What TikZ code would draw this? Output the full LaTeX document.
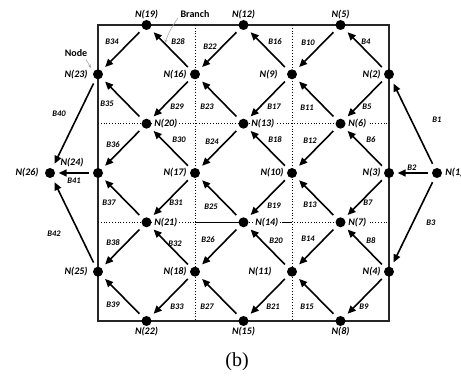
\documentclass[tikz,border=0pt]{standalone}
\usepackage{fontspec}
\setmainfont{Liberation Serif}
\newfontfamily\lblfont{Carlito}
\usetikzlibrary{arrows.meta}
\begin{document}
\begin{tikzpicture}[x=1pt,y=-1pt,
  dot/.style={circle,fill=black,minimum size=10pt,inner sep=0pt},
  nl/.style={font=\lblfont\bfseries\itshape\fontsize{10}{12}\selectfont,inner sep=1pt},
  nlw/.style={nl,fill=white,inner sep=1.5pt},
  bl/.style={font=\lblfont\bfseries\itshape\fontsize{8.5}{10}\selectfont,inner sep=0pt},
  br/.style={-{Triangle[length=8pt,width=7pt]},line width=1.6pt,shorten <=5pt,shorten >=5pt},
  brh/.style={br,shorten <=3.5pt,shorten >=3.5pt},
  frame/.style={line width=1.2pt,black!85},
  grid/.style={dotted,line width=0.8pt},
  note/.style={font=\lblfont\bfseries\fontsize{10}{12}\selectfont,inner sep=0pt},
  pointer/.style={gray!70,line width=0.6pt,-{Stealth[length=3.5pt,width=3pt]}},
  label distance=2pt]
\useasboundingbox (0,0) rectangle (461,379);

% columns and rows of the mesh
\def\cA{98}\def\cB{146.5}\def\cC{195}\def\cD{243.5}\def\cE{292}\def\cF{340.5}\def\cG{389}
\def\rA{25}\def\rB{74.3}\def\rC{123.7}\def\rD{173}\def\rE{222.3}\def\rF{271.7}\def\rG{321}

% outer frame and inner dotted subdivisions
\draw[frame] (\cA,\rA) rectangle (\cG,\rG);
\draw[grid] (\cC,\rA) -- (\cC,\rG);
\draw[grid] (\cE,\rA) -- (\cE,\rG);
\draw[grid] (\cA,\rC) -- (\cG,\rC);
\draw[grid] (\cA,\rE) -- (\cG,\rE);
\draw[line width=1.2pt] (\cC,\rE) -- (\cD,\rE);
\draw[line width=1.2pt] (282,\rE) -- (\cE,\rE);

% nodes
\node[dot,label={[nl]right:N(1)}] (n1) at (437,\rD) {};
\node[dot,label={[nl]left:N(2)}] (n2) at (\cG,\rB) {};
\node[dot,label={[nl]left:N(3)}] (n3) at (\cG,\rD) {};
\node[dot,label={[nl]left:N(4)}] (n4) at (\cG,\rF) {};
\node[dot,label={[nl,label distance=0pt]above:N(5)}] (n5) at (\cF,\rA) {};
\node[dot,label={[nlw,label distance=1pt]right:N(6)}] (n6) at (\cF,\rC) {};
\node[dot,label={[nlw,label distance=1pt]right:N(7)}] (n7) at (\cF,\rE) {};
\node[dot,label={[nl,label distance=0pt]below:N(8)}] (n8) at (\cF,\rG) {};
\node[dot,label={[nl,label distance=8pt]left:N(9)}] (n9) at (\cE,\rB) {};
\node[dot,label={[nl]left:N(10)}] (n10) at (\cE,\rD) {};
\node[dot,label={[nl,label distance=14pt]left:N(11)}] (n11) at (\cE,\rF) {};
\node[dot,label={[nl,label distance=0pt]above:N(12)}] (n12) at (\cD,\rA) {};
\node[dot,label={[nlw,label distance=1pt]right:N(13)}] (n13) at (\cD,\rC) {};
\node[dot,label={[nlw,label distance=5pt]right:N(14)}] (n14) at (\cD,\rE) {};
\node[dot,label={[nl,label distance=0pt]below:N(15)}] (n15) at (\cD,\rG) {};
\node[dot,label={[nl]left:N(16)}] (n16) at (\cC,\rB) {};
\node[dot,label={[nl]left:N(17)}] (n17) at (\cC,\rD) {};
\node[dot,label={[nl]left:N(18)}] (n18) at (\cC,\rF) {};
\node[dot,label={[nl,label distance=0pt]above:N(19)}] (n19) at (\cB,\rA) {};
\node[dot,label={[nlw,label distance=1pt]right:N(20)}] (n20) at (\cB,\rC) {};
\node[dot,label={[nlw,label distance=1pt]right:N(21)}] (n21) at (\cB,\rE) {};
\node[dot,label={[nl,label distance=0pt]below:N(22)}] (n22) at (\cB,\rG) {};
\node[dot,label={[nl,label distance=4pt]left:N(23)}] (n23) at (\cA,\rB) {};
\node[dot] (n24) at (\cA,\rD) {};
\node[dot,label={[nl,label distance=4pt]left:N(25)}] (n25) at (\cA,\rF) {};
\node[dot,label={[nl,label distance=5pt]left:N(26)}] (n26) at (50,\rD) {};
\node[nl] (ln24) at (72,162.5) {N(24)};

% branches
\draw[br] (n1) -- (n2);
\draw[brh] (n1) -- (n3);
\draw[br] (n1) -- (n4);
\draw[br] (n2) -- (n5);
\draw[br] (n2) -- (n6);
\draw[br] (n3) -- (n6);
\draw[br] (n3) -- (n7);
\draw[br] (n4) -- (n7);
\draw[br] (n4) -- (n8);
\draw[br] (n5) -- (n9);
\draw[br] (n6) -- (n9);
\draw[br] (n6) -- (n10);
\draw[br] (n7) -- (n10);
\draw[br] (n7) -- (n11);
\draw[br] (n8) -- (n11);
\draw[br] (n9) -- (n12);
\draw[br] (n9) -- (n13);
\draw[br] (n10) -- (n13);
\draw[br] (n10) -- (n14);
\draw[br] (n11) -- (n14);
\draw[br] (n11) -- (n15);
\draw[br] (n12) -- (n16);
\draw[br] (n13) -- (n16);
\draw[br] (n13) -- (n17);
\draw[br] (n14) -- (n17);
\draw[br] (n14) -- (n18);
\draw[br] (n15) -- (n18);
\draw[br] (n16) -- (n19);
\draw[br] (n16) -- (n20);
\draw[br] (n17) -- (n20);
\draw[br] (n17) -- (n21);
\draw[br] (n18) -- (n21);
\draw[br] (n18) -- (n22);
\draw[br] (n19) -- (n23);
\draw[br] (n20) -- (n23);
\draw[br] (n20) -- (n24);
\draw[br] (n21) -- (n24);
\draw[br] (n21) -- (n25);
\draw[br] (n22) -- (n25);
\draw[br] (n23) -- (n26);
\draw[brh] (n24) -- (n26);
\draw[br] (n25) -- (n26);

% branch labels
\node[bl] (b1) at (437,120) {B1};
\node[bl] (b2) at (412,168) {B2};
\node[bl] (b3) at (431,223) {B3};
\node[bl] (b4) at (366,42) {B4};
\node[bl] (b5) at (367,107) {B5};
\node[bl] (b6) at (371,140) {B6};
\node[bl] (b7) at (368,203) {B7};
\node[bl] (b8) at (371,241) {B8};
\node[bl] (b9) at (364,307) {B9};
\node[bl] (b10) at (308,43) {B10};
\node[bl] (b11) at (307,108) {B11};
\node[bl] (b12) at (310,141) {B12};
\node[bl] (b13) at (310,205) {B13};
\node[bl] (b14) at (308,239) {B14};
\node[bl] (b15) at (307,307) {B15};
\node[bl] (b16) at (275,42) {B16};
\node[bl] (b17) at (274,107) {B17};
\node[bl] (b18) at (275,140) {B18};
\node[bl] (b19) at (274,206) {B19};
\node[bl] (b20) at (276,241) {B20};
\node[bl] (b21) at (273,307) {B21};
\node[bl] (b22) at (210,47) {B22};
\node[bl] (b23) at (207,107) {B23};
\node[bl] (b24) at (212,142) {B24};
\node[bl] (b25) at (211,207) {B25};
\node[bl] (b26) at (208,240) {B26};
\node[bl] (b27) at (207,307) {B27};
\node[bl] (b28) at (178,42) {B28};
\node[bl] (b29) at (177,107) {B29};
\node[bl] (b30) at (179,140) {B30};
\node[bl] (b31) at (176,203) {B31};
\node[bl] (b32) at (175,244) {B32};
\node[bl] (b33) at (177,307) {B33};
\node[bl] (b34) at (112,42) {B34};
\node[bl] (b35) at (107,104) {B35};
\node[bl] (b36) at (113,145) {B36};
\node[bl] (b37) at (109,203) {B37};
\node[bl] (b38) at (113,243) {B38};
\node[bl] (b39) at (113,305) {B39};
\node[bl] (b40) at (59,114) {B40};
\node[bl] (b41) at (74,181) {B41};
\node[bl] (b42) at (54,234) {B42};

% annotations
\node[note] (tnode) at (76,53) {Node};
\coordinate (pnode) at (91,68);
\draw[pointer] (86,59.5) -- (pnode);
\node[note] (tbranch) at (195,14) {Branch};
\coordinate (pbranch) at (165,43);
\draw[pointer] (178,18) to[bend right=8] (pbranch);

% caption
\node[font=\fontsize{20}{24}\selectfont] (cap) at (237,362) {(b)};
\end{tikzpicture}
\end{document}
